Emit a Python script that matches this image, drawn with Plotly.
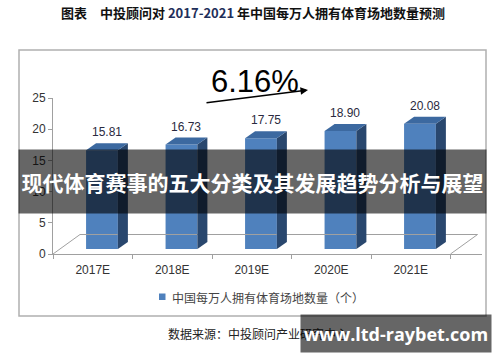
import plotly.graph_objects as go

# ---------------- data ----------------
categories = ["2017E", "2018E", "2019E", "2020E", "2021E"]
values = [15.81, 16.73, 17.75, 18.90, 20.08]
y_ticks = [0, 5, 10, 15, 20, 25]
growth_label = "6.16%"
series_name = "中国每万人拥有体育场地数量（个）"
title_text = "图表　中投顾问对 <span style='color:#1f2f5a'>2017-2021</span> 年中国每万人拥有体育场地数量预测"
banner_text = "现代体育赛事的五大分类及其发展趋势分析与展望"
source_text = "数据来源：中投顾问产业研究中心"
watermark_text = "www.ltd-raybet.com"

# ---------------- style / geometry ----------------
W, H = 500, 362
ML, MR, MT, MB = 53, 18, 98, 108
PW, PH = W - ML - MR, H - MT - MB
CAT_PX = 79.5
X_RANGE = [-0.5, -0.5 + PW / CAT_PX]
Y_RANGE = [0, 25]

BAR_SHIFT, BAR_W, BAR_BASE = 0.116, 0.40, 0.8
DEPTH_X, DEPTH_Y = 0.126, 1.12
FLOOR_DX, FLOOR_DY = 0.34, 3.125

FRONT = "#4f81bd"
SIDE = "#29476e"
TOP = "#3c69a0"
TXT = "#333333"
SANS = "Liberation Sans, Arial, sans-serif"
CJK = "Noto Sans CJK SC, sans-serif"


def P(px, py):
    """pixel -> paper coordinates"""
    return (px - ML) / PW, (H - MB - py) / PH


fig = go.Figure()

# floor outline (perspective)
n = len(categories)
fx = [-0.5, -0.5 + FLOOR_DX, n - 0.5 + FLOOR_DX, n - 0.5]
fy = [0, FLOOR_DY, FLOOR_DY, 0]
fig.add_trace(go.Scatter(x=fx, y=fy, mode="lines", line=dict(color="#a0a0a0", width=1),
                         hoverinfo="skip", showlegend=False))

# front faces
xs = [i + BAR_SHIFT for i in range(n)]
fig.add_trace(go.Bar(x=xs, y=values, base=BAR_BASE, width=BAR_W, name=series_name,
                     marker=dict(color=FRONT, line=dict(width=0)), showlegend=False))

# side and top faces
for i, v in enumerate(values):
    x0 = xs[i] - BAR_W / 2
    x1 = xs[i] + BAR_W / 2
    t = BAR_BASE + v
    fig.add_trace(go.Scatter(
        x=[x1, x1, x1 + DEPTH_X, x1 + DEPTH_X, x1],
        y=[BAR_BASE, t, t + DEPTH_Y, BAR_BASE + DEPTH_Y, BAR_BASE],
        fill="toself", fillcolor=SIDE, mode="lines", line=dict(width=0, color=SIDE),
        hoverinfo="skip", showlegend=False))
    fig.add_trace(go.Scatter(
        x=[x0, x1, x1 + DEPTH_X, x0 + DEPTH_X, x0],
        y=[t, t, t + DEPTH_Y, t + DEPTH_Y, t],
        fill="toself", fillcolor=TOP, mode="lines", line=dict(width=0, color=TOP),
        hoverinfo="skip", showlegend=False))

annotations = []
# value labels
for i, v in enumerate(values):
    annotations.append(dict(x=xs[i] + DEPTH_X / 2, y=BAR_BASE + v + DEPTH_Y, xref="x", yref="y",
                            text=f"{v:.2f}", showarrow=False, xanchor="center", yanchor="bottom", yshift=2,
                            font=dict(family=SANS, size=12, color="#2a2a40")))


def note(px, py, text, font, xanchor="center", **kw):
    x, y = P(px, py)
    d = dict(x=x, y=y, xref="paper", yref="paper", text=text, showarrow=False,
             xanchor=xanchor, yanchor="middle", font=font)
    d.update(kw)
    annotations.append(d)


# title
note(253, 12, "<b>" + title_text + "</b>", dict(family=CJK, size=13, color="#111"))

# growth label and arrow
note(255, 82, growth_label, dict(family=SANS, size=31, color="#000"))
hx, hy = P(308, 90)
annotations.append(dict(x=hx, y=hy, xref="paper", yref="paper", text="", showarrow=True,
                        ax=-103, ay=13, arrowhead=2, arrowsize=1, arrowwidth=1.5, arrowcolor="#000"))

# legend (manual)
note(170, 297, series_name, dict(family=CJK, size=12, color="#444"), xanchor="left")

# source text
note(166, 333, source_text, dict(family=CJK, size=12, color="#222"), xanchor="left")

# banner overlay
note(252.5, 181.5, "<b>" + banner_text + "</b>", dict(family=CJK, size=21, color="#fff"),
     width=467, height=63, bgcolor="rgba(0,0,0,0.6)", borderpad=0)

# watermark overlay
note(396, 333.5, "<b>" + watermark_text + "</b>", dict(family="Open Sans, sans-serif", size=18, color="#fff"),
     width=190, height=37, bgcolor="rgba(0,0,0,0.6)", borderpad=0)

shapes = []
# outer frame
f0x, f0y = P(19, 316)
f1x, f1y = P(486, 50)
shapes.append(dict(type="rect", xref="paper", yref="paper", x0=f0x, y0=f0y, x1=f1x, y1=f1y,
                   line=dict(color="#b0b0b0", width=1.5), layer="below"))
# legend swatch
s0x, s0y = P(159, 300)
s1x, s1y = P(165.5, 293.5)
shapes.append(dict(type="rect", xref="paper", yref="paper", x0=s0x, y0=s0y, x1=s1x, y1=s1y,
                   line=dict(width=0), fillcolor=FRONT))

fig.update_layout(
    width=W, height=H,
    margin=dict(l=ML, r=MR, t=MT, b=MB, pad=0),
    paper_bgcolor="#fff", plot_bgcolor="rgba(0,0,0,0)",
    showlegend=False,
    annotations=annotations, shapes=shapes,
    xaxis=dict(range=X_RANGE, tickmode="array", tickvals=list(range(n)), ticktext=categories,
               showgrid=False, zeroline=False, showline=True, linecolor="#a0a0a0", linewidth=1,
               ticks="outside", ticklen=5, tickcolor="rgba(0,0,0,0)",
               tickfont=dict(family=SANS, size=12, color=TXT),
               minor=dict(tickmode="array", tickvals=[k - 0.5 for k in range(n + 1)], ticks="outside",
                          ticklen=4, tickcolor="#a0a0a0", showgrid=False)),
    yaxis=dict(range=Y_RANGE, tickmode="array", tickvals=y_ticks, showgrid=False, zeroline=False,
               showline=True, linecolor="#a0a0a0", linewidth=1, ticks="outside", ticklen=4,
               tickcolor="#a0a0a0", tickfont=dict(family=SANS, size=12, color=TXT)),
)

fig.write_html("out.html")
